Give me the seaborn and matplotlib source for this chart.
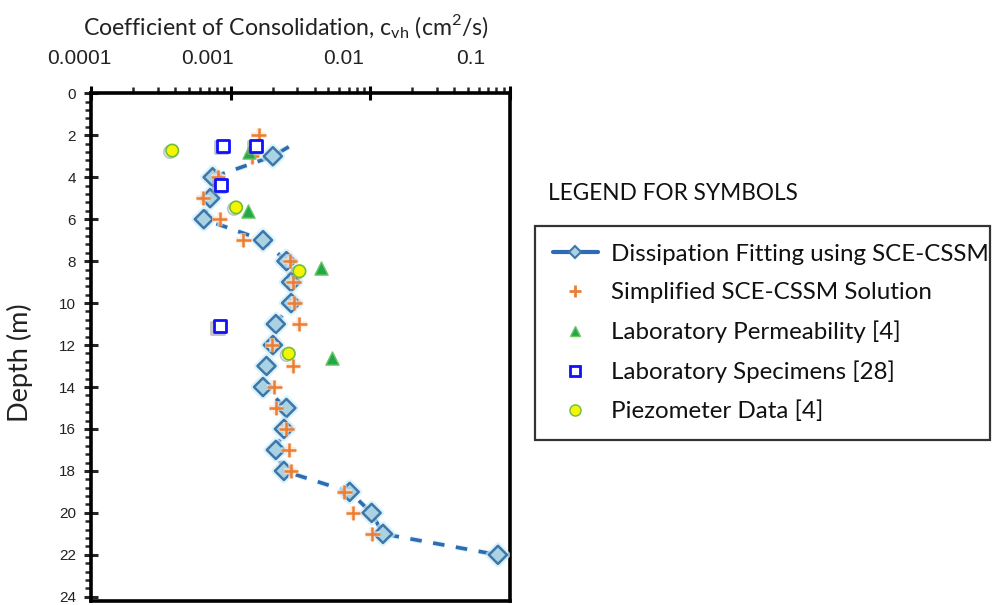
import matplotlib
matplotlib.use("Agg")
import matplotlib.pyplot as plt
import matplotlib.transforms as mtransforms
from matplotlib import patheffects as pe
from matplotlib.lines import Line2D
from matplotlib.ticker import LogLocator, MultipleLocator, NullFormatter, FixedFormatter
import pandas as pd
import seaborn as sns

# Dissipation fitting using SCE-CSSM (line starts just above the first fitted point)
fit_depth = [2.55, 3, 4, 5, 6, 7, 8, 9, 10, 11, 12, 13, 14, 15, 16, 17, 18, 19, 20, 21, 22]
fit_cvh = [0.0026, 0.0020, 0.00074, 0.00071, 0.00064, 0.0017, 0.0025, 0.0027, 0.0027,
           0.0021, 0.0020, 0.0018, 0.0017, 0.0025, 0.0024, 0.0021, 0.0024, 0.0071,
           0.0102, 0.0123, 0.082]

# Simplified SCE-CSSM solution
simp_depth = [2, 3, 4, 5, 6, 7, 8, 9, 10, 11, 12, 13, 14, 15, 16, 17, 18, 19, 20, 21]
simp_cvh = [0.00158, 0.00141, 0.00081, 0.00063, 0.00083, 0.00123, 0.00266, 0.0028,
            0.00285, 0.0031, 0.00197, 0.00278, 0.00205, 0.0021, 0.0025, 0.0026,
            0.0027, 0.0065, 0.0075, 0.0103]

# Laboratory permeability [4]
perm_depth = [2.78, 5.6, 8.32, 12.6]
perm_cvh = [0.00134, 0.00132, 0.0044, 0.0053]

# Laboratory specimens [28]
spec_depth = [2.5, 2.5, 4.36, 11.1]
spec_cvh = [0.00088, 0.00152, 0.00085, 0.00083]

# Piezometer data [4]
piez_depth = [2.73, 5.44, 8.48, 12.41]
piez_cvh = [0.00038, 0.00109, 0.0031, 0.0026]

x_ticks = [0.0001, 0.001, 0.01, 0.1]
x_tick_labels = ["0.0001", "0.001", "0.01", "0.1"]

fit_df = pd.DataFrame({"cvh": fit_cvh, "depth": fit_depth})
simp_df = pd.DataFrame({"cvh": simp_cvh, "depth": simp_depth})
perm_df = pd.DataFrame({"cvh": perm_cvh, "depth": perm_depth})
spec_df = pd.DataFrame({"cvh": spec_cvh, "depth": spec_depth})
piez_df = pd.DataFrame({"cvh": piez_cvh, "depth": piez_depth})

sns.set_theme(style="white")
plt.rcParams["font.family"] = ["Lato", "DejaVu Sans"]

LINE_BLUE = "#2f6bb0"
DIAMOND_FILL = "#a9d2e3"
DIAMOND_EDGE = "#3f76aa"
ORANGE = "#ed7d31"
GREEN = "#22a845"
GREEN_EDGE = "#6cc76a"
SQUARE_BLUE = "#1010ff"
YELLOW = "#f5f500"
YELLOW_EDGE = "#6cbf3a"

fig = plt.figure(figsize=(9.92, 6.05), dpi=100)
ax = fig.add_axes([91.3 / 992, 1 - 601 / 605, (510 - 91.3) / 992, (601 - 93.3) / 605])

glow = [pe.withStroke(linewidth=4, foreground="#cdeefa", alpha=0.8)]
shadow = [pe.SimpleLineShadow(offset=(-1.5, -1), shadow_color="#9a9a9a", alpha=0.6), pe.Normal()]

# fitted profile: dashed line, diamonds at each fitted depth
sns.lineplot(data=fit_df, x="cvh", y="depth", sort=False, estimator=None, ax=ax,
             color=LINE_BLUE, linewidth=2.6, dashes=False, linestyle=(0, (3.2, 3.2)),
             zorder=2)
ax.lines[-1].set_path_effects(glow)
sns.scatterplot(data=fit_df.iloc[1:], x="cvh", y="depth", marker="D", s=85,
                color=DIAMOND_FILL, edgecolor=DIAMOND_EDGE, linewidth=1.8, ax=ax, zorder=3)
ax.collections[-1].set_path_effects([pe.withStroke(linewidth=5, foreground="#cdeefa", alpha=0.7)])

sns.scatterplot(data=simp_df, x="cvh", y="depth", marker="+", s=110, color=ORANGE,
                linewidth=1.8, ax=ax, zorder=4)
ax.collections[-1].set_path_effects([pe.withStroke(linewidth=4, foreground="#fde3d2", alpha=0.7)])

sns.scatterplot(data=perm_df, x="cvh", y="depth", marker="^", s=90, color=GREEN,
                edgecolor=GREEN_EDGE, linewidth=1.0, ax=ax, zorder=4)

sns.scatterplot(data=spec_df, x="cvh", y="depth", marker="s", s=75, color="white",
                edgecolor=SQUARE_BLUE, linewidth=2.0, ax=ax, zorder=4)
ax.collections[-1].set_path_effects(shadow)

sns.scatterplot(data=piez_df, x="cvh", y="depth", marker="o", s=80, color=YELLOW,
                edgecolor=YELLOW_EDGE, linewidth=1.2, ax=ax, zorder=4)
ax.collections[-1].set_path_effects(shadow)

ax.set_xscale("log")
ax.set_xlim(0.0001, 0.1)
ax.set_ylim(24.2, 0)

# axes decoration: ticks along top and left, full box
ax.xaxis.tick_top()
ax.xaxis.set_label_position("top")
ax.set_xticks(x_ticks)
ax.xaxis.set_major_formatter(FixedFormatter(x_tick_labels))
ax.xaxis.set_minor_locator(LogLocator(base=10, subs=range(2, 10)))
ax.xaxis.set_minor_formatter(NullFormatter())
ax.yaxis.set_major_locator(MultipleLocator(2))
ax.yaxis.set_minor_locator(MultipleLocator(0.4))
ax.tick_params(axis="x", which="major", direction="inout", length=10, width=2.2,
               labelsize=15, pad=13, top=True, bottom=False, colors="black",
               labelcolor="#222222", labelfontfamily="Liberation Sans")
ax.tick_params(axis="x", which="minor", direction="out", length=4, width=1.8,
               top=True, bottom=False)
ax.tick_params(axis="y", which="major", direction="inout", length=10, width=2.2,
               labelsize=11, pad=6, left=True, right=False,
               labelcolor="#222222", labelfontfamily="Liberation Sans")
ax.tick_params(axis="y", which="minor", direction="out", length=4, width=1.8,
               left=True, right=False)
for sp in ax.spines.values():
    sp.set_visible(True)
    sp.set_color("black")
    sp.set_linewidth(2.6)

# tick labels sit on a slightly compressed spacing above the axis
label_shift_px = [-12, -23, -27, -39]
for lab, dx in zip(ax.get_xticklabels(), label_shift_px):
    lab.set_transform(lab.get_transform() + mtransforms.Affine2D().translate(dx, 0))

ax.set_xlabel(r"Coefficient of Consolidation, c$_\mathregular{vh}$ (cm$^\mathregular{2}$/s)",
              fontsize=16.7, color="#222222")
ax.set_ylabel("Depth (m)", fontsize=19.5, color="#222222")
ax.xaxis.set_label_coords(0.464, 1.0)
ax.xaxis.label.set_va("bottom")
ax.xaxis.label.set_transform(ax.transAxes + mtransforms.Affine2D().translate(0, 52))
ax.yaxis.set_label_coords(-0.14, 0.47)

fig.text(548 / 992, 1 - 193 / 605, "LEGEND FOR SYMBOLS", fontsize=16.3, va="center",
         ha="left", color="#111111")

handles = [
    Line2D([], [], color=LINE_BLUE, linewidth=3, marker="D", markersize=6,
           markerfacecolor=DIAMOND_FILL, markeredgecolor=DIAMOND_EDGE, markeredgewidth=1.5),
    Line2D([], [], linestyle="none", marker="+", markersize=9, markeredgewidth=2,
           color=ORANGE),
    Line2D([], [], linestyle="none", marker="^", markersize=7, markerfacecolor=GREEN,
           markeredgecolor=GREEN_EDGE),
    Line2D([], [], linestyle="none", marker="s", markersize=7, markerfacecolor="white",
           markeredgecolor=SQUARE_BLUE, markeredgewidth=2),
    Line2D([], [], linestyle="none", marker="o", markersize=8, markerfacecolor=YELLOW,
           markeredgecolor=YELLOW_EDGE),
]
labels = [
    "Dissipation Fitting using SCE-CSSM",
    "Simplified SCE-CSSM Solution",
    "Laboratory Permeability [4]",
    "Laboratory Specimens [28]",
    "Piezometer Data [4]",
]
leg = fig.legend(handles, labels, loc="upper left",
                 bbox_to_anchor=(535 / 992, 1 - 226 / 605, 455 / 992, 0.0),
                 mode="expand", frameon=True, fancybox=False, fontsize=17.4,
                 handlelength=1.85, handletextpad=0.55, labelspacing=0.72,
                 borderpad=0.74, borderaxespad=0.0)
leg.get_frame().set_edgecolor("black")
leg.get_frame().set_linewidth(1.6)
for t in leg.get_texts():
    t.set_color("#111111")

fig.savefig("out.png", dpi=100)
